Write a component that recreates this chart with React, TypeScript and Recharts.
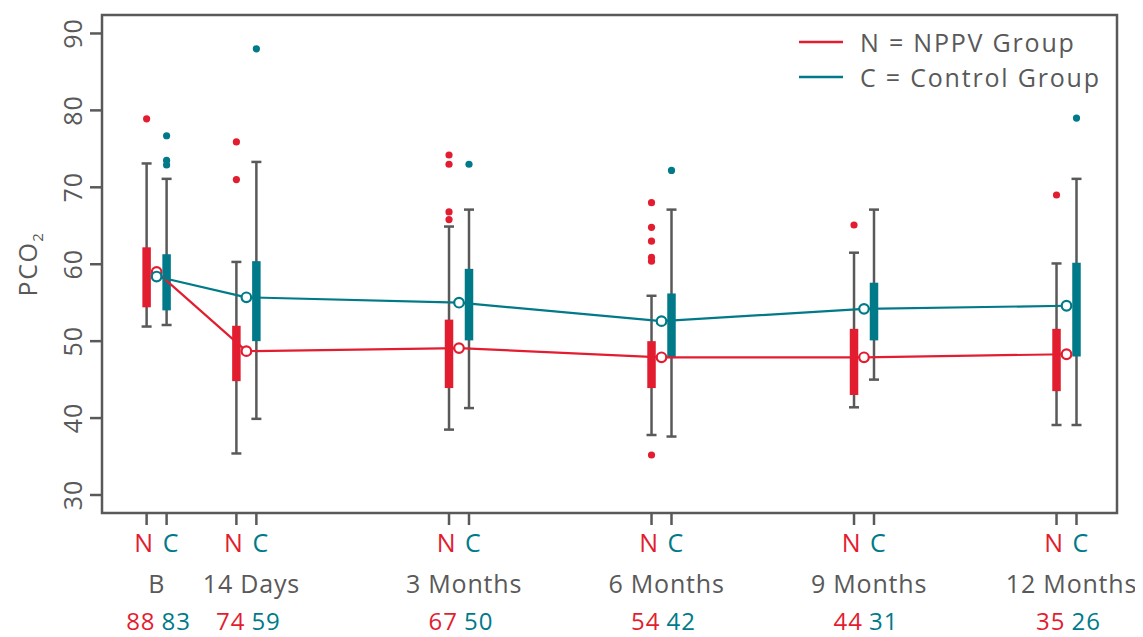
import React from 'react';
import { ComposedChart, Scatter, XAxis, YAxis, ErrorBar, ReferenceArea, Legend } from 'recharts';

const RED = '#E31D30';
const TEAL = '#007A89';
const GRAY = '#595959';
const FONT = '"Open Sans", "DejaVu Sans", sans-serif';

// ---- data ----
const timeLabels = ['B', '14 Days', '3 Months', '6 Months', '9 Months', '12 Months'];
const timePositions = [-1.48, -0.15, 3, 6, 9, 12];
const nCounts = [88, 74, 67, 54, 44, 35];
const cCounts = [83, 59, 50, 42, 31, 26];

const nWhiskerLow = [51.9, 35.4, 38.5, 37.8, 41.4, 39.1];
const nBoxLow = [54.4, 44.8, 43.9, 43.9, 43.0, 43.5];
const nBoxHigh = [62.2, 52.0, 52.8, 50.0, 51.6, 51.6];
const nWhiskerHigh = [73.1, 60.3, 64.9, 55.9, 61.5, 60.1];
const nMean = [59.0, 48.7, 49.1, 47.9, 47.9, 48.3];

const cWhiskerLow = [52.1, 39.9, 41.3, 37.6, 45.0, 39.1];
const cBoxLow = [54.0, 50.0, 50.1, 47.8, 50.1, 48.0];
const cBoxHigh = [61.3, 60.4, 59.4, 56.2, 57.6, 60.2];
const cWhiskerHigh = [71.1, 73.3, 67.1, 67.1, 67.1, 71.1];
const cMean = [58.4, 55.7, 55.0, 52.6, 54.2, 54.6];

const nOutliers = [[78.9], [75.9, 71.0], [74.2, 73.0, 66.8, 65.8], [68.0, 64.8, 63.0, 60.9, 60.4, 35.2], [65.1], [69.0]];
const cOutliers = [[76.7, 73.5, 72.9], [88.0], [73.0], [72.2], [], [79.0]];

const yTicks = [30, 40, 50, 60, 70, 80, 90];

// ---- derived series ----
const OFF = 0.148;

function boxData(wl: number[], bl: number[], bh: number[], wh: number[], sign: number) {
  return timePositions.map((t, i) => {
    const mid = (bl[i] + bh[i]) / 2;
    return {
      x: t + sign * OFF,
      y: mid,
      whisker: [mid - wl[i], wh[i] - mid],
      box: [mid - bl[i], bh[i] - mid],
    };
  });
}

const nBoxes = boxData(nWhiskerLow, nBoxLow, nBoxHigh, nWhiskerHigh, -1);
const cBoxes = boxData(cWhiskerLow, cBoxLow, cBoxHigh, cWhiskerHigh, 1);
const nMeanData = timePositions.map((t, i) => ({ x: t, y: nMean[i] }));
const cMeanData = timePositions.map((t, i) => ({ x: t, y: cMean[i] }));
const nOutData = nOutliers.flatMap((vals, i) => vals.map((v) => ({ x: timePositions[i] - OFF, y: v })));
const cOutData = cOutliers.flatMap((vals, i) => vals.map((v) => ({ x: timePositions[i] + OFF, y: v })));

const xTicks = timePositions.flatMap((t) => [t - OFF, t, t + OFF]);

const X_DOMAIN: [number, number] = [-2.289, 12.748];
const Y_DOMAIN: [number, number] = [27.66, 92.4];

const Empty = () => <g />;

const meanShape = (color: string) => (props: any) => (
  <circle cx={props.cx} cy={props.cy} r={4.8} fill="#fff" stroke={color} strokeWidth={2.2} />
);
const dotShape = (color: string) => (props: any) => (
  <circle cx={props.cx} cy={props.cy} r={3.6} fill={color} stroke="none" />
);

const XTick = (props: any) => {
  const { x, y, payload } = props;
  const v = payload.value;
  const i = timePositions.findIndex((p) => Math.abs(p - v) < 1e-6);
  if (i >= 0) {
    const labelShift = i === 0 ? 0 : 5;
    return (
      <g fontFamily={FONT}>
        <text x={x} y={y + 39} textAnchor="middle" fontSize={25} letterSpacing={0.5}>
          <tspan fill={RED}>N</tspan>
          <tspan fill={TEAL} dx={9}>C</tspan>
        </text>
        <text x={x + labelShift} y={y + 80} textAnchor="middle" fill={GRAY} fontSize={25} letterSpacing={0.8}>
          {timeLabels[i]}
        </text>
        <text x={x + 2} y={y + 117} textAnchor="middle" fontSize={24} letterSpacing={1}>
          <tspan fill={RED}>{nCounts[i]}</tspan>
          <tspan fill={TEAL} dx={6}>{cCounts[i]}</tspan>
        </text>
      </g>
    );
  }
  return <line x1={x} x2={x} y1={y} y2={y + 12} stroke={GRAY} strokeWidth={2.5} />;
};

const YTick = (props: any) => {
  const { x, y, payload } = props;
  return (
    <text
      transform={`translate(${x - 6},${y}) rotate(-90)`}
      textAnchor="middle"
      fontFamily={FONT}
      fontSize={25}
      letterSpacing={1}
      fill={GRAY}
    >
      {payload.value}
    </text>
  );
};

const YLabel = (props: any) => {
  const vb = props.viewBox || { x: 0, y: 7, width: 94, height: 498 };
  const cx = vb.x + 29;
  const cy = vb.y + vb.height / 2;
  return (
    <text
      transform={`translate(${cx},${cy}) rotate(-90)`}
      textAnchor="middle"
      fontFamily={FONT}
      fontSize={25}
      letterSpacing={1.5}
      fill={GRAY}
    >
      PCO
      <tspan fontSize={15} dy={6}>2</tspan>
    </text>
  );
};

const legendItems = [
  { label: 'N = NPPV Group', color: RED },
  { label: 'C = Control Group', color: TEAL },
];

const LegendContent = () => (
  <div style={{ fontFamily: FONT, fontSize: 25, letterSpacing: 1.8, color: GRAY }}>
    {legendItems.map((it) => (
      <div key={it.label} style={{ display: 'flex', alignItems: 'center', height: 35, whiteSpace: 'nowrap' }}>
        <svg width={44} height={4} style={{ marginRight: 17 }}>
          <line x1={0} x2={44} y1={2} y2={2} stroke={it.color} strokeWidth={2.5} />
        </svg>
        <span>{it.label}</span>
      </div>
    ))}
  </div>
);

export default function App() {
  return (
    <ComposedChart width={1135} height={629} margin={{ top: 7, right: 26, bottom: 0, left: 0 }}>
      <XAxis
        type="number"
        dataKey="x"
        domain={X_DOMAIN}
        ticks={xTicks}
        interval={0}
        allowDataOverflow
        axisLine={false}
        tickLine={false}
        tickSize={0}
        tickMargin={0}
        height={124}
        tick={XTick}
      />
      <YAxis
        type="number"
        domain={Y_DOMAIN}
        ticks={yTicks}
        allowDataOverflow
        width={94}
        axisLine={false}
        tickSize={12}
        tickMargin={2}
        tickLine={{ stroke: GRAY, strokeWidth: 2.5 }}
        tick={YTick}
        label={<YLabel />}
      />
      <ReferenceArea
        x1={X_DOMAIN[0]}
        x2={X_DOMAIN[1]}
        y1={Y_DOMAIN[0]}
        y2={Y_DOMAIN[1]}
        fill="none"
        fillOpacity={0}
        stroke={GRAY}
        strokeWidth={2.5}
      />
      <Legend
        layout="horizontal"
        verticalAlign="middle"
        align="center"
        content={LegendContent}
        wrapperStyle={{ top: 16, left: 791, width: 'auto' }}
      />
      <Scatter data={nBoxes} dataKey="y" shape={Empty} isAnimationActive={false} legendType="none">
        <ErrorBar dataKey="whisker" direction="y" width={5} stroke={GRAY} strokeWidth={2.5} isAnimationActive={false} />
        <ErrorBar dataKey="box" direction="y" width={0} stroke={RED} strokeWidth={8.5} isAnimationActive={false} />
      </Scatter>
      <Scatter
        data={nMeanData}
        dataKey="y"
        line={{ stroke: RED, strokeWidth: 2.2 }}
        shape={meanShape(RED)}
        isAnimationActive={false}
        legendType="none"
      />
      <Scatter data={cBoxes} dataKey="y" shape={Empty} isAnimationActive={false} legendType="none">
        <ErrorBar dataKey="whisker" direction="y" width={5} stroke={GRAY} strokeWidth={2.5} isAnimationActive={false} />
        <ErrorBar dataKey="box" direction="y" width={0} stroke={TEAL} strokeWidth={8.5} isAnimationActive={false} />
      </Scatter>
      <Scatter
        data={cMeanData}
        dataKey="y"
        line={{ stroke: TEAL, strokeWidth: 2.2 }}
        shape={meanShape(TEAL)}
        isAnimationActive={false}
        legendType="none"
      />
      <Scatter data={nOutData} dataKey="y" shape={dotShape(RED)} isAnimationActive={false} legendType="none" />
      <Scatter data={cOutData} dataKey="y" shape={dotShape(TEAL)} isAnimationActive={false} legendType="none" />
    </ComposedChart>
  );
}
